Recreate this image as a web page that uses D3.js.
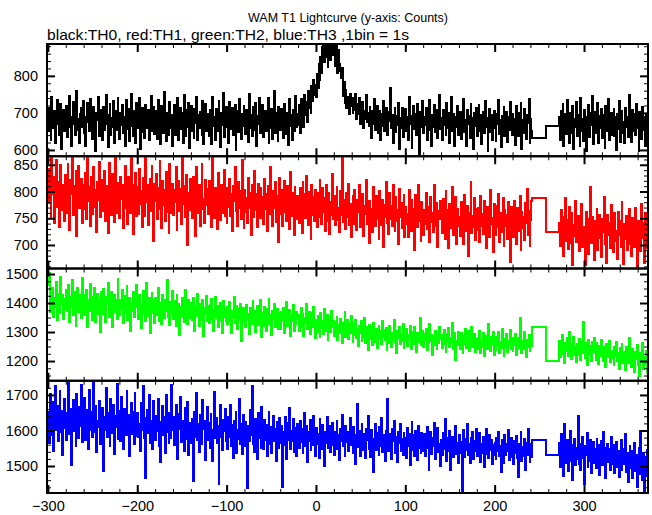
<!DOCTYPE html>
<html><head><meta charset="utf-8">
<script src="https://cdn.jsdelivr.net/npm/d3@7"></script>
<style>body{margin:0;background:#fff}svg{display:block}text{font-family:"Liberation Sans",Arial,sans-serif}</style>
</head><body><svg id="c" width="652" height="515"></svg>
<script>
// ---- data (counts per 1 s bin) ----
const segAStart = -300;   // first bin of segment A
const segBStart = 272;    // first bin of segment B
const gapStarts = [242, 258];
const xTicks = [-300, -200, -100, 0, 100, 200, 300];
const panelNames = ["TH0", "TH1", "TH2", "TH3"];
const panelColors = ["#000000", "#ff0000", "#00ff00", "#0000ff"];
const yTicks0 = [600, 700, 800];
const yTicks1 = [700, 750, 800, 850];
const yTicks2 = [1200, 1300, 1400, 1500];
const yTicks3 = [1500, 1600, 1700];

const th0A = [
651,712,688,627,743,690,659,704,618,671,735,682,640,698,725,603,668,709,652,690,
718,634,677,696,745,661,612,688,729,670,641,703,758,655,684,620,697,714,663,732,
645,690,611,676,727,699,652,738,671,629,685,716,660,598,701,680,742,637,668,709,
692,626,715,654,683,748,670,607,694,723,641,687,662,731,618,679,706,653,740,674,
630,701,667,722,645,689,612,735,678,656,710,624,693,750,666,638,704,681,619,726,
687,659,741,603,675,714,648,697,633,722,684,660,707,626,690,745,651,679,716,642,
704,671,629,736,662,693,615,718,683,647,757,669,624,701,688,641,729,658,695,612,
676,721,640,690,664,739,627,682,713,656,699,618,747,670,637,708,661,726,604,689,
718,650,681,633,711,672,744,626,695,659,702,681,640,733,615,686,724,652,697,668,
639,707,685,616,742,664,690,628,711,676,650,731,687,609,699,667,753,634,680,715,
662,695,620,730,657,688,714,641,676,722,601,683,705,649,737,671,630,698,666,719,
686,643,709,672,622,751,660,695,638,717,680,654,728,611,692,670,741,645,700,663,
721,634,688,705,652,676,740,618,694,660,711,629,683,758,647,671,700,625,716,679,
654,710,667,631,725,689,642,701,674,614,738,665,693,627,708,683,651,746,662,697,
668,721,645,738,683,702,661,749,695,730,676,758,712,745,701,772,733,790,749,776,
742,805,768,831,790,852,809,878,902,838,911,851,887,824,905,868,842,899,857,918,
872,826,899,845,808,871,832,812,795,821,746,783,728,761,712,744,739,696,751,718,
741,699,735,708,752,683,724,696,740,671,718,692,729,660,706,683,747,676,701,664,
715,680,632,706,671,738,655,692,719,646,684,704,627,698,666,731,650,689,713,672,
641,702,677,768,658,695,620,683,714,649,691,667,728,603,687,659,712,634,699,676,
710,652,688,628,742,671,692,606,681,719,657,697,640,725,668,589,703,661,686,733,
645,690,668,714,627,699,653,735,676,612,694,662,720,648,681,707,631,673,749,656,
687,628,709,667,690,641,726,659,700,618,683,744,652,675,698,610,689,663,718,640,
676,703,629,694,657,738,648,682,612,707,669,691,632,724,655,686,603,699,666,713,
639,681,720,652,694,616,676,703,645,731,661,687,598,672,710,648,693,627,684,705,
658,624,697,671,735,643,680,609,692,660,716,638,677,703,621,688,654,729,667,641,
696,652,683,614,719,668,637,701,659,727,602,680,646,711,664,630,693,672,737,618,
683,650];
const th0Gap = [631, 664];
const th0B = [
690,628,705,653,724,611,677,698,642,736,660,619,701,671,645,718,603,684,662,729,
637,695,666,611,741,652,683,624,708,673,598,689,657,722,634,700,668,746,615,678,
702,645,680,726,620,691,659,710,631,694,668,606,719,651,685,737,627,672,699,640,
664,711,638,688,601,697,657,733,621,680,706,646,675,620,712,661,690,635,748,655,
682,622,708,650,697,641,724,660,683,596,703,668,630,716,654,689,612,694,671,645];

const th1A = [
778,842,810,751,866,796,828,742,803,859,771,817,734,797,850,766,812,789,745,831,
805,760,851,783,728,822,796,869,757,810,775,839,716,801,848,769,792,824,741,813,
767,834,795,748,871,782,809,736,827,790,758,845,771,803,725,818,785,856,752,799,
821,763,797,839,745,811,777,722,854,786,809,757,832,779,743,868,795,760,816,772,
750,827,786,813,731,798,847,769,805,740,828,781,759,863,794,721,812,777,835,754,
809,758,842,776,801,733,826,790,755,869,781,813,738,797,824,764,848,771,707,815,
782,833,749,806,768,857,792,731,819,774,802,745,836,761,795,723,851,787,760,814,
757,803,781,846,728,792,819,763,804,739,862,777,811,752,789,831,700,798,766,824,
794,750,828,773,807,716,845,782,759,813,735,799,852,768,786,741,822,775,804,758,
819,764,790,733,868,777,751,806,788,729,834,770,797,746,812,760,782,840,755,798,
742,807,771,823,754,795,727,811,783,846,764,792,736,818,770,801,748,859,776,731,
803,762,787,741,826,769,797,719,813,780,752,838,766,795,733,815,774,751,806,761,
789,740,823,768,796,727,810,775,758,845,780,736,801,769,817,743,792,765,706,825,
758,802,735,784,819,762,793,744,810,771,729,836,780,754,797,718,808,776,748,791,
783,741,806,763,722,817,772,795,751,829,764,738,799,776,712,812,757,790,744,803,
769,733,798,752,821,775,740,806,761,787,726,812,768,745,797,720,781,757,832,749,
792,738,775,808,746,770,724,801,757,866,743,785,761,729,798,752,814,737,776,715,
769,791,740,803,752,728,784,761,812,733,776,747,795,716,772,758,821,739,782,704,
783,746,767,725,809,758,736,792,749,771,712,801,762,738,784,697,775,753,818,741,
764,720,797,748,773,735,812,757,726,789,744,766,702,804,753,778,731,761,794,715,
771,739,758,714,803,750,727,785,742,768,691,794,756,733,812,745,762,708,781,751,
718,766,740,797,729,754,771,705,789,743,760,724,812,751,736,778,697,764,748,783,
760,723,786,744,712,801,737,765,694,777,748,731,808,719,756,741,789,702,768,735,
752,716,781,738,763,701,794,745,727,772,680,759,741,817,722,754,733,788,709,767,
728,769,745,706,791,736,758,720,783,743,695,771,729,760,715,802,739,751,686,776,
751,718,772,733,795,706,760,741,724,787,699,766,735,757,712,780,743,668,771,729,
756,714,783,737,702,769,745,726,791,690,761,732,752,710,778,741,805,719,763,698,
747,782];
const th1Gap = [787, 725];
const th1B = [
741,698,765,716,752,679,733,787,708,746,692,771,725,703,759,662,738,717,783,706,
729,755,689,742,711,776,697,734,720,662,761,715,748,683,737,809,704,752,726,671,
744,707,768,691,731,756,713,678,749,724,790,701,739,666,757,719,742,695,774,712,
686,735,759,708,727,673,762,718,745,697,781,723,664,740,711,755,690,728,768,702,
733,680,751,716,697,769,724,659,745,708,737,688,776,713,741,666,759,721,694,747];

const th2A = [
1462,1505,1370,1436,1394,1451,1352,1418,1387,1473,1340,1409,1432,1365,1490,1398,1427,1346,1415,1381,
1444,1373,1399,1461,1336,1420,1385,1478,1357,1410,1438,1322,1402,1453,1368,1394,1427,1349,1485,1391,
1359,1428,1386,1445,1317,1411,1374,1467,1393,1340,1420,1376,1452,1333,1398,1431,1362,1409,1299,1437,
1415,1361,1449,1382,1336,1422,1397,1470,1352,1405,1374,1438,1319,1392,1426,1368,1411,1344,1483,1386,
1357,1412,1379,1446,1331,1398,1425,1366,1457,1343,1390,1418,1305,1401,1372,1437,1351,1409,1386,1462,
1402,1346,1428,1371,1315,1395,1443,1362,1410,1338,1469,1381,1354,1419,1297,1392,1436,1365,1407,1330,
1418,1359,1392,1452,1337,1401,1370,1326,1426,1385,1348,1411,1374,1478,1352,1396,1323,1405,1367,1440,
1345,1407,1381,1322,1429,1363,1398,1289,1386,1352,1417,1371,1336,1444,1360,1395,1328,1410,1377,1349,
1399,1341,1416,1372,1305,1388,1355,1430,1361,1320,1397,1376,1343,1412,1287,1384,1362,1425,1338,1390,
1331,1394,1358,1415,1346,1303,1377,1422,1350,1389,1318,1366,1340,1401,1372,1296,1408,1352,1381,1338,
1386,1327,1367,1405,1339,1298,1374,1348,1421,1331,1362,1390,1310,1378,1343,1397,1269,1356,1384,1335,
1372,1318,1394,1340,1361,1293,1383,1352,1326,1407,1345,1371,1301,1366,1389,1324,1358,1412,1337,1283,
1365,1322,1387,1349,1304,1378,1336,1415,1327,1359,1290,1371,1345,1398,1316,1352,1381,1310,1367,1333,
1312,1368,1341,1383,1297,1356,1329,1403,1320,1347,1375,1286,1360,1338,1392,1305,1351,1327,1369,1344,
1357,1303,1341,1384,1316,1362,1288,1350,1331,1395,1309,1343,1370,1294,1336,1365,1317,1387,1325,1279,
1342,1301,1356,1322,1283,1367,1315,1339,1294,1380,1328,1305,1358,1272,1333,1349,1299,1371,1316,1337,
1288,1336,1307,1352,1271,1323,1295,1345,1316,1262,1330,1302,1368,1284,1319,1341,1277,1326,1298,1355,
1313,1266,1327,1291,1342,1279,1309,1253,1322,1296,1337,1270,1304,1283,1349,1262,1317,1290,1238,1325,
1275,1318,1287,1256,1331,1293,1267,1309,1244,1298,1322,1279,1302,1259,1338,1284,1307,1272,1315,1237,
1301,1262,1322,1280,1249,1296,1273,1340,1265,1288,1226,1305,1281,1316,1257,1292,1270,1329,1246,1297,
1268,1309,1251,1290,1275,1322,1242,1283,1301,1259,1318,1273,1232,1296,1266,1287,1347,1254,1279,1305,
1248,1293,1274,1311,1237,1280,1261,1326,1269,1291,1222,1284,1256,1303,1270,1241,1298,1263,1318,1277,
1289,1246,1275,1308,1258,1231,1293,1267,1314,1249,1281,1262,1332,1240,1277,1296,1205,1270,1256,1301,
1278,1240,1295,1263,1226,1286,1259,1311,1245,1272,1303,1236,1281,1254,1318,1247,1268,1293,1230,1275,
1241,1279,1262,1304,1228,1270,1250,1296,1216,1265,1288,1243,1273,1327,1253,1236,1284,1260,1299,1222,
1268,1237,1282,1251,1299,1229,1264,1244,1310,1258,1217,1276,1249,1292,1232,1270,1255,1306,1241,1279,
1236,1271,1254,1293,1222,1262,1281,1245,1348,1258,1227,1269,1240,1301,1256,1214,1274,1248,1289,1233,
1266,1252];
const th2Gap = [1316, 1201];
const th2B = [
1268,1214,1251,1289,1225,1247,1193,1262,1236,1278,1218,1299,1241,1206,1259,1232,1284,1220,1248,1196,
1257,1221,1275,1239,1203,1266,1228,1335,1245,1210,1262,1187,1241,1273,1224,1252,1199,1264,1230,1281,
1243,1205,1261,1228,1190,1252,1217,1274,1235,1199,1247,1222,1180,1258,1214,1239,1268,1196,1231,1209,
1236,1188,1250,1218,1265,1201,1227,1174,1244,1209,1258,1192,1231,1213,1169,1248,1222,1193,1280,1205,
1226,1178,1240,1196,1162,1231,1207,1254,1185,1219,1150,1228,1197,1262,1171,1213,1189,1234,1158,1210];

const th3A = [
1652,1566,1703,1614,1587,1680,1542,1639,1725,1601,1668,1570,1633,1712,1595,1656,1530,1624,1690,1608,
1574,1648,1617,1735,1589,1661,1502,1630,1686,1598,1643,1555,1702,1621,1580,1667,1613,1729,1567,1640,
1691,1605,1573,1658,1629,1547,1714,1600,1652,1583,1635,1740,1596,1669,1540,1627,1610,1684,1561,1646,
1597,1663,1486,1638,1602,1720,1581,1649,1615,1557,1688,1626,1593,1672,1534,1641,1609,1730,1577,1655,
1632,1571,1695,1608,1548,1660,1620,1587,1712,1599,1643,1528,1626,1678,1590,1651,1562,1706,1611,1584,
1648,1583,1617,1541,1676,1602,1724,1578,1635,1465,1620,1659,1593,1700,1566,1628,1604,1549,1683,1612,
1573,1641,1598,1690,1555,1624,1512,1612,1668,1587,1637,1536,1701,1596,1650,1564,1619,1580,1728,1601,
1639,1559,1615,1672,1584,1520,1647,1603,1694,1568,1627,1588,1543,1662,1609,1575,1680,1532,1621,1596,
1565,1631,1457,1610,1653,1582,1705,1574,1618,1539,1644,1597,1561,1686,1604,1627,1518,1590,1666,1573,
1620,1550,1645,1586,1513,1602,1707,1579,1634,1566,1591,1448,1613,1672,1581,1544,1629,1598,1660,1571,
1608,1548,1637,1583,1671,1557,1615,1523,1626,1592,1651,1537,1602,1575,1688,1561,1619,1533,1644,1585,
1556,1623,1594,1438,1612,1571,1659,1588,1726,1562,1607,1539,1631,1596,1520,1648,1580,1613,1551,1667,
1601,1547,1629,1574,1616,1528,1592,1651,1563,1611,1537,1587,1642,1569,1604,1513,1625,1581,1550,1634,
1566,1613,1441,1595,1558,1637,1580,1520,1622,1573,1664,1549,1599,1571,1631,1540,1606,1589,1527,1618,
1593,1551,1626,1568,1603,1536,1582,1649,1557,1612,1510,1597,1571,1630,1545,1588,1560,1642,1577,1529,
1608,1563,1590,1522,1633,1575,1547,1615,1585,1501,1596,1566,1639,1552,1587,1612,1540,1581,1620,1558,
1531,1596,1565,1627,1549,1588,1518,1605,1571,1644,1555,1583,1527,1614,1568,1597,1541,1579,1636,1560,
1592,1538,1610,1566,1505,1587,1675,1553,1599,1527,1578,1617,1546,1591,1562,1522,1604,1574,1641,1549,
1583,1526,1601,1560,1482,1577,1618,1545,1594,1568,1531,1609,1557,1636,1540,1586,1572,1515,1598,1563,
1689,1542,1590,1557,1521,1603,1570,1628,1536,1582,1549,1512,1597,1566,1619,1541,1575,1530,1593,1561,
1578,1523,1606,1555,1591,1503,1570,1624,1544,1586,1529,1599,1562,1518,1613,1550,1575,1537,1594,1566,
1542,1589,1527,1574,1610,1551,1490,1568,1597,1533,1579,1556,1620,1521,1585,1548,1606,1539,1563,1501,
1573,1530,1592,1547,1632,1566,1515,1578,1541,1598,1489,1560,1583,1526,1571,1552,1612,1534,1565,1508,
1586,1538,1567,1427,1559,1601,1525,1575,1544,1617,1532,1563,1509,1580,1549,1596,1519,1570,1541,1605,
1528,1572,1546,1593,1511,1563,1538,1582,1498,1556,1604,1533,1569,1522,1587,1545,1574,1506,1560,1531,
1566,1519,1580,1541,1595,1527,1556,1482,1572,1545,1509,1588,1530,1563,1541,1600,1516,1553,1578,1524,
1559,1506,1571,1537,1584,1522,1468,1562,1540,1597,1515,1553,1528,1575,1489,1566,1531,1603,1547,1510,
1561,1526];
const th3Gap = [1572, 1530];
const th3B = [
1566,1497,1589,1521,1553,1472,1617,1535,1508,1572,1486,1545,1598,1513,1558,1460,1540,1576,1502,1550,
1519,1640,1506,1561,1490,1537,1582,1523,1449,1555,1531,1594,1497,1546,1515,1573,1480,1529,1567,1508,
1549,1494,1575,1519,1558,1476,1536,1571,1502,1597,1518,1552,1465,1533,1562,1510,1547,1488,1581,1523,
1507,1559,1481,1530,1568,1497,1542,1470,1525,1573,1490,1549,1505,1533,1590,1483,1537,1454,1528,1556,
1493,1541,1466,1520,1566,1485,1532,1440,1511,1550,1477,1598,1514,1461,1538,1425,1524,1473,1546,1500];

// ---- layout ----
const L = 47, R = 648, T = 44, B = 493;
const panelH = (B - T) / 4;
const yDomains = [[583, 886], [656, 866], [1132, 1519], [1424, 1740]];
const yMinor = [20, 10, 25, 20];
const yTickSets = [yTicks0, yTicks1, yTicks2, yTicks3];
const series = [
  [th0A, th0Gap, th0B], [th1A, th1Gap, th1B], [th2A, th2Gap, th2B], [th3A, th3Gap, th3B]
];

const svg = d3.select("#c");
const x = d3.scaleLinear().domain([-301, 371.6]).range([L, R]);
const xMinorTicks = d3.range(-300, 372, 20);

svg.append("text").attr("x", 348).attr("y", 22).attr("text-anchor", "middle")
  .attr("font-size", 13.5).attr("textLength", 200).attr("lengthAdjust", "spacingAndGlyphs")
  .text("WAM T1 Lightcurve (y-axis: Counts)");
svg.append("text").attr("x", 47).attr("y", 40)
  .attr("font-size", 15).attr("textLength", 362).attr("lengthAdjust", "spacingAndGlyphs")
  .text("black:TH0, red:TH1, green:TH2, blue:TH3 ,1bin = 1s");

function buildPoints(a, gap, b) {
  const pts = [];
  a.forEach((v, i) => pts.push([segAStart + i, v]));
  gap.forEach((v, i) => pts.push([gapStarts[i], v]));
  b.forEach((v, i) => pts.push([segBStart + i, v]));
  pts.push([segBStart + b.length, b[b.length - 1]]);
  return pts;
}

series.forEach((s, p) => {
  const top = T + p * panelH, bot = top + panelH;
  const y = d3.scaleLinear().domain(yDomains[p]).range([bot, top]);
  const g = svg.append("g");
  const clipId = "clip" + p;
  svg.append("clipPath").attr("id", clipId).append("rect")
    .attr("x", L).attr("y", top).attr("width", R - L).attr("height", panelH);

  const line = d3.line().curve(d3.curveStepAfter).x(d => x(d[0])).y(d => y(d[1]));
  g.append("path").datum(buildPoints(s[0], s[1], s[2]))
    .attr("clip-path", `url(#${clipId})`)
    .attr("fill", "none").attr("stroke", panelColors[p]).attr("stroke-width", 2)
    .attr("stroke-linejoin", "miter")
    .attr("shape-rendering", "crispEdges")
    .attr("d", line);

  const [y0, y1] = yDomains[p];
  const minorY = d3.range(Math.ceil(y0 / yMinor[p]) * yMinor[p], y1, yMinor[p]);

  const minorStyle = sel => {
    sel.select(".domain").remove();
    sel.selectAll("line").attr("stroke", "#000").attr("stroke-width", 1);
    sel.selectAll("text").remove();
  };
  g.append("g").attr("transform", `translate(${L},0)`)
    .call(d3.axisLeft(y).tickValues(minorY).tickSize(-4)).call(minorStyle);
  g.append("g").attr("transform", `translate(${R},0)`)
    .call(d3.axisRight(y).tickValues(minorY).tickSize(-4)).call(minorStyle);
  g.append("g").attr("transform", `translate(0,${bot})`)
    .call(d3.axisBottom(x).tickValues(xMinorTicks).tickSize(-4)).call(minorStyle);
  g.append("g").attr("transform", `translate(0,${top})`)
    .call(d3.axisTop(x).tickValues(xMinorTicks).tickSize(-4)).call(minorStyle);

  const majorStyle = keepText => sel => {
    sel.select(".domain").remove();
    sel.selectAll("line").attr("stroke", "#000").attr("stroke-width", 2);
    if (!keepText) sel.selectAll("text").remove();
    else sel.selectAll("text").attr("font-size", 14.5)
      .attr("font-family", "Liberation Sans, Arial, sans-serif").attr("fill", "#000");
  };
  g.append("g").attr("transform", `translate(${L},0)`)
    .call(d3.axisLeft(y).tickValues(yTickSets[p]).tickSize(-8).tickPadding(9).tickFormat(d3.format("d")))
    .call(majorStyle(true));
  g.append("g").attr("transform", `translate(${R},0)`)
    .call(d3.axisRight(y).tickValues(yTickSets[p]).tickSize(-8)).call(majorStyle(false));
  g.append("g").attr("transform", `translate(0,${bot})`)
    .call(d3.axisBottom(x).tickValues(xTicks).tickSize(-8).tickPadding(8))
    .call(majorStyle(p === 3));
  g.append("g").attr("transform", `translate(0,${top})`)
    .call(d3.axisTop(x).tickValues(xTicks).tickSize(-8)).call(majorStyle(false));

  g.append("rect").attr("x", L).attr("y", top).attr("width", R - L).attr("height", panelH)
    .attr("fill", "none").attr("stroke", "#000").attr("stroke-width", 2);
});
</script></body></html>
